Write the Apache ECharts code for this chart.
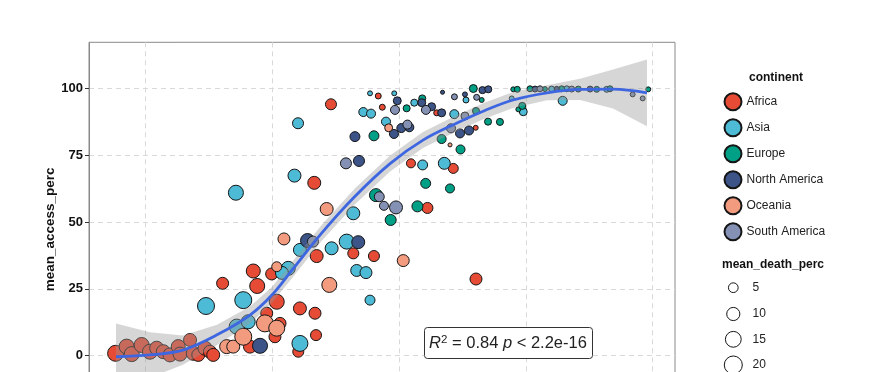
<!DOCTYPE html>
<html>
<head>
<meta charset="utf-8">
<script src="https://cdn.jsdelivr.net/npm/echarts@6/dist/echarts.min.js"></script>
<style>html,body{margin:0;padding:0;background:#fff;}#c{width:875px;height:372px;}</style>
</head>
<body>
<div id="c"></div>
<script>
// ---- data ----
const continents = ['Africa', 'Asia', 'Europe', 'North America', 'Oceania', 'South America'];
const palette = ['#E64B35', '#4DBBD5', '#00A087', '#3C5488', '#F39B7F', '#8491B4'];

// [x, mean_access_perc, mean_death_perc]
const africa = [
  [6.763,0.9,15.4],[6.85,3.4,13.4],[6.89,0.6,13.4],[6.968,4.0,13.4],[7.034,1.5,13.4],[7.087,2.8,11.5],
  [7.139,1.5,11.5],[7.192,0.3,11.5],[7.257,3.4,11.5],[7.271,0.6,11.5],[7.35,5.9,9.7],[7.376,0.9,11.5],
  [7.415,0.3,9.7],[7.468,2.8,11.5],[7.507,1.5,9.7],[7.533,0.3,9.7],[7.823,3.4,9.7],[8.02,7.1,8.1],
  [8.06,12.1,8.1],[7.955,15.9,8.1],[8.034,20.2,13.4],[7.607,27.1,8.1],[7.849,31.7,11.5],[7.88,26.1,13.4],
  [7.994,30.6,8.1],[8.217,17.7,9.7],[8.336,15.9,8.1],[8.344,7.7,6.7],[8.204,1.5,6.7],[8.349,37.3,9.7],
  [8.638,38.3,6.7],[8.801,37.3,6.7],[9.606,28.7,8.1],[8.462,94.1,6.7],[8.835,97.2,1.5],[8.867,93.0,1.5],
  [9.296,90.9,1.5],[9.604,85.3,0.9],[8.33,64.7,9.7],[9.093,72.0,4.2],[9.427,70.1,5.3],[9.223,55.3,6.7]
];
const asia = [
  [7.712,61.0,13.4],[8.202,87.0,6.7],[8.174,67.4,9.7],[7.718,10.9,13.4],[7.809,12.7,11.5],[7.77,20.8,17.6],
  [7.476,18.6,17.6],[8.125,32.7,11.5],[8.075,31.0,9.7],[8.217,4.6,15.4],[8.217,39.6,9.7],[8.467,40.2,9.7],
  [8.586,42.7,13.4],[8.638,53.3,9.7],[8.665,31.9,8.1],[8.738,31.1,8.1],[8.77,20.8,5.3],[8.77,98.2,0.9],
  [8.961,98.2,0.9],[8.717,91.2,4.2],[8.778,90.6,4.2],[8.896,87.6,4.2],[9.119,94.7,2.3],[9.527,95.7,1.5],
  [9.185,71.4,5.3],[9.356,72.0,8.1],[9.888,96.3,0.9],[9.979,91.3,3.1],[10.29,95.4,4.2],[9.435,90.4,4.2],
  [10.203,99.8,1.5],[10.322,99.9,1.5],[10.637,99.7,1.5]
];
const europe = [
  [8.801,82.3,5.3],[9.059,92.6,2.3],[9.182,96.3,2.3],[9.585,100.0,3.1],[9.651,95.7,0.9],[9.335,81.1,4.2],
  [9.484,77.2,4.2],[9.209,64.5,5.3],[9.401,62.6,4.2],[8.817,60.1,9.7],[9.144,55.9,6.7],[8.933,50.8,6.7],
  [9.606,91.6,2.3],[9.701,87.6,2.3],[9.795,87.5,2.3],[9.9,99.7,0.9],[9.932,99.7,1.5],[9.94,92.2,0.9],
  [9.971,93.5,2.3],[10.965,99.7,0.9],[10.032,99.9,1.5],[10.15,99.8,0.9],[10.282,99.9,1.5],[10.413,99.8,1.5],
  [10.558,99.7,1.5],[10.663,99.9,1.5]
];
const northAmerica = [
  [7.902,3.7,13.4],[8.277,43.1,11.5],[8.677,42.5,9.7],[8.985,95.4,3.1],[9.178,94.7,3.1],[9.256,93.2,3.1],
  [9.335,90.9,3.1],[9.342,98.6,0.5],[9.519,97.8,0.9],[9.657,99.4,2.3],[9.703,99.7,2.3],[8.959,83.0,4.2],
  [9.017,85.2,4.2],[9.08,85.5,4.2],[8.651,82.0,5.3],[8.683,72.9,6.7],[9.48,83.2,4.2],[9.551,84.3,4.2],
  [10.072,99.8,1.5],[10.243,99.9,0.9],[10.506,99.8,1.5]
];
const oceania = [
  [7.639,3.4,11.5],[7.691,3.4,9.7],[7.77,7.1,17.6],[7.941,12.1,17.6],[8.034,10.3,15.4],[8.034,33.3,5.3],
  [8.091,43.7,8.1],[8.449,26.5,13.4],[8.428,54.9,9.7],[9.032,35.6,8.1],[8.917,85.3,3.1],[9.401,78.9,0.5]
];
const southAmerica = [
  [8.32,42.7,6.7],[8.967,92.0,4.2],[9.065,86.5,4.2],[9.211,92.0,4.2],[9.436,96.9,1.5],[9.611,96.7,1.5],
  [9.409,85.1,4.2],[8.58,72.0,6.7],[8.843,59.5,5.3],[8.88,56.1,4.2],[8.975,55.5,9.7],[9.519,89.7,3.1],
  [10.842,97.8,0.9],[10.921,96.3,0.9],[10.111,99.9,1.5],[10.361,99.8,1.5]
];

// smoother (loess) fit and confidence band
const smoothX  = [6.766,7.034,7.294,7.563,7.823,7.996,8.154,8.39,8.65,8.928,9.188,9.456,9.677,9.898,10.166,10.427,10.687,10.955];
const smoothY  = [-0.4,0.3,2.1,7.8,15.2,22.7,32.0,46.0,59.6,71.9,80.7,87.1,91.8,95.7,98.4,99.7,99.8,98.4];
const smoothLo = [-12.9,-8.2,-3.4,4.0,12.0,19.7,29.0,43.0,56.6,68.9,77.7,84.1,88.8,92.7,95.6,95.7,92.5,85.9];
const smoothHi = [12.1,8.8,7.6,11.6,18.4,25.7,35.0,49.0,62.6,74.9,83.7,90.1,94.8,98.7,101.2,103.7,107.1,110.9];

const yTicks = [0, 25, 50, 75, 100];
const xTicks = [7, 8, 9, 10, 11];
const sizeLegendValues = [5, 10, 15, 20];
const annotationText = '{it|R}{sup|2}{n| = 0.84 }{it|p}{n| < 2.2e-16}';

// ---- chart ----
const FONT = '"Liberation Sans", Arial, sans-serif';
const seriesData = [africa, asia, europe, northAmerica, oceania, southAmerica];
function outerR(d) { return 1.2 + 9.3 * Math.sqrt(d / 25); }

const chart = echarts.init(document.getElementById('c'), null, { renderer: 'canvas' });

const scatterSeries = continents.map((name, i) => ({
  name: name,
  type: 'scatter',
  data: seriesData[i],
  symbol: 'circle',
  symbolSize: v => 2 * (outerR(v[2]) - 0.5),
  itemStyle: { color: palette[i], borderColor: '#151515', borderWidth: 1, opacity: 1 },
  emphasis: { disabled: true },
  z: 2
}));

const gridStyle = { type: [5, 4], color: '#d9d9d9', width: 1 };

const sizeLegendY = [287.7, 314, 339.3, 365];
const graphics = [
  { type: 'text', left: 749, top: 71.5, style: { text: 'continent', font: 'bold 12px ' + FONT, fill: '#111' } },
  { type: 'text', left: 722, top: 258.3, style: { text: 'mean_death_perc', font: 'bold 12px ' + FONT, fill: '#111' } }
];
sizeLegendValues.forEach((v, i) => {
  graphics.push({ type: 'circle', shape: { cx: 733.3, cy: sizeLegendY[i], r: outerR(v) - 0.5 },
    style: { fill: '#fff', stroke: '#151515', lineWidth: 1 } });
  graphics.push({ type: 'text', x: 752.5, y: sizeLegendY[i],
    style: { text: String(v), font: '12px ' + FONT, fill: '#222', verticalAlign: 'middle', align: 'left' } });
});
graphics.push({ type: 'rect', shape: { x: 424.5, y: 327.5, width: 168, height: 31, r: 3 },
  style: { fill: '#fff', stroke: '#333', lineWidth: 1 }, z: 100 });
graphics.push({ type: 'text', x: 508, y: 343.5, z: 101,
  style: {
    text: annotationText, align: 'center', verticalAlign: 'middle',
    rich: {
      it: { fontFamily: FONT, fontSize: 16.5, fontStyle: 'italic', fill: '#222', lineHeight: 20 },
      n: { fontFamily: FONT, fontSize: 16.5, fill: '#222', lineHeight: 20 },
      sup: { fontFamily: FONT, fontSize: 11.5, fill: '#222', lineHeight: 6, verticalAlign: 'top' }
    }
  } });

chart.setOption({
  animation: false,
  backgroundColor: '#fff',
  textStyle: { fontFamily: FONT },
  grid: {
    left: 89, top: 42.3, width: 586, height: 380.2, outerBoundsMode: 'none', containLabel: false,
    show: true, borderColor: '#8a8a8a', borderWidth: 1, backgroundColor: 'transparent'
  },
  legend: {
    data: continents, orient: 'vertical', left: 723.5, top: 92.2, padding: 0,
    itemWidth: 17, itemHeight: 17, itemGap: 7, icon: 'circle', selectedMode: false,
    textStyle: { fontFamily: FONT, fontSize: 12, color: '#222' }
  },
  xAxis: {
    type: 'value', min: 6.553, max: 11.176,
    axisLine: { show: false },
    axisTick: { show: false, customValues: xTicks },
    axisLabel: { show: false, customValues: xTicks },
    splitLine: { show: true, lineStyle: gridStyle }
  },
  yAxis: {
    type: 'value', min: -25, max: 117.3, interval: 25,
    name: 'mean_access_perc', nameLocation: 'middle', nameGap: 32, nameMoveOverlap: false,
    nameTextStyle: { fontFamily: FONT, fontWeight: 'bold', fontSize: 13.5, color: '#111', padding: [0, 0, 0, 6] },
    axisLine: { show: true, lineStyle: { color: '#8a8a8a' } },
    axisTick: { show: true, length: 4, lineStyle: { color: '#333' }, customValues: yTicks },
    axisLabel: { customValues: yTicks, margin: 6, fontFamily: FONT, fontWeight: 'bold', fontSize: 13, color: '#111' },
    splitLine: { show: true, lineStyle: gridStyle }
  },
  series: scatterSeries.concat([
    {
      name: 'band', type: 'custom', silent: true, clip: true, z: 3,
      data: smoothX.map((x, i) => [x, smoothLo[i], smoothHi[i]]),
      encode: { x: 0, y: [1, 2] },
      renderItem: function (params, api) {
        if (params.dataIndex !== 0) return null;
        const pts = [];
        for (let i = 0; i < smoothX.length; i++) pts.push(api.coord([smoothX[i], smoothHi[i]]));
        for (let i = smoothX.length - 1; i >= 0; i--) pts.push(api.coord([smoothX[i], smoothLo[i]]));
        return { type: 'polygon', shape: { points: pts }, style: { fill: '#999999', opacity: 0.4 } };
      }
    },
    {
      name: 'fit', type: 'line', smooth: 0.35, showSymbol: false, silent: true, z: 4,
      data: smoothX.map((x, i) => [x, smoothY[i]]),
      lineStyle: { color: '#3E66E0', width: 2.8 },
      emphasis: { disabled: true }
    }
  ]),
  graphic: { elements: graphics }
});
</script>
</body>
</html>
